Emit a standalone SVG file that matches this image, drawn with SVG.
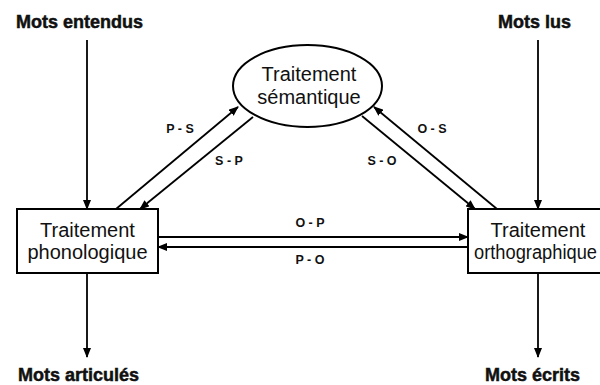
<svg xmlns="http://www.w3.org/2000/svg" width="600" height="385" viewBox="0 0 600 385">
<defs>
<marker id="ah" markerWidth="10" markerHeight="8" refX="9" refY="4" orient="auto" markerUnits="userSpaceOnUse">
<path d="M0,0 L10,4 L0,8 Z" fill="#000"/>
</marker>
<style>
.node{fill:#fff;stroke:#000;stroke-width:2}
.nt{font-family:"Liberation Sans",Arial,sans-serif;font-size:20px;fill:#111;text-anchor:middle}
.io{font-family:"Liberation Sans",Arial,sans-serif;font-size:18px;font-weight:bold;fill:#111;stroke:#111;stroke-width:0.5}
.lb{font-family:"Liberation Sans",Arial,sans-serif;font-size:12.5px;font-weight:bold;fill:#111;text-anchor:middle}
.cn{stroke:#000;stroke-width:1.8;fill:none;marker-end:url(#ah)}
</style>
</defs>
<rect width="600" height="385" fill="#fff"/>
<g id="connectors">
<line class="cn" x1="87" y1="40" x2="87" y2="209"/>
<line class="cn" x1="538" y1="40" x2="538" y2="209"/>
<line class="cn" x1="87" y1="273" x2="87" y2="357"/>
<line class="cn" x1="538" y1="273" x2="538" y2="357"/>
<line class="cn" x1="116" y1="209" x2="238" y2="107"/>
<line class="cn" x1="253" y1="117" x2="140" y2="209"/>
<line class="cn" x1="362" y1="116" x2="475" y2="209"/>
<line class="cn" x1="497" y1="209" x2="374" y2="107"/>
<line class="cn" x1="158" y1="237" x2="468" y2="237"/>
<line class="cn" x1="468" y1="247" x2="158" y2="247"/>
<text class="lb" x="180" y="133">P - S</text>
<text class="lb" x="229" y="165">S - P</text>
<text class="lb" x="432" y="133">O - S</text>
<text class="lb" x="382" y="165">S - O</text>
<text class="lb" x="310" y="227">O - P</text>
<text class="lb" x="310" y="264">P - O</text>
</g>
<g id="mots-entendus"><text class="io" x="16" y="28">Mots entendus</text></g>
<g id="mots-lus"><text class="io" x="498" y="28">Mots lus</text></g>
<g id="mots-articules"><text class="io" x="18" y="381">Mots articulés</text></g>
<g id="mots-ecrits"><text class="io" x="485" y="381">Mots écrits</text></g>
<g id="semantique">
<ellipse class="node" cx="307.5" cy="86" rx="74.5" ry="41"/>
<text class="nt" x="309" y="81">Traitement</text>
<text class="nt" x="309" y="104">sémantique</text>
</g>
<g id="phonologique">
<rect class="node" x="17" y="209" width="141" height="64"/>
<text class="nt" x="87.5" y="237">Traitement</text>
<text class="nt" x="87.5" y="259">phonologique</text>
</g>
<g id="orthographique">
<rect class="node" x="468" y="209" width="141" height="64"/>
<text class="nt" x="535.5" y="259" textLength="123" lengthAdjust="spacingAndGlyphs">orthographique</text>
<text class="nt" x="538" y="237">Traitement</text>
</g>
</svg>
